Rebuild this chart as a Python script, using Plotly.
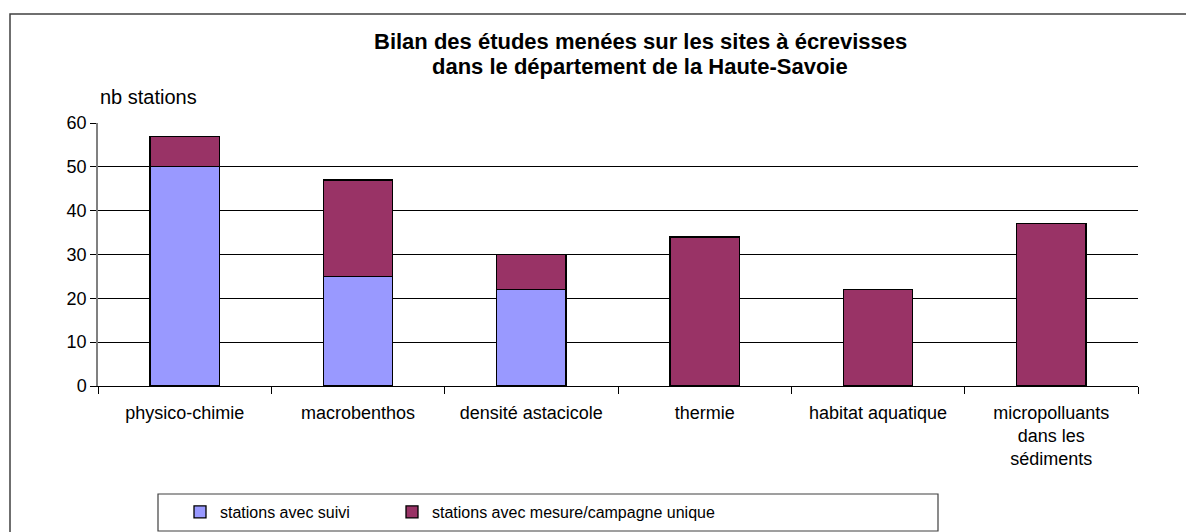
import plotly.graph_objects as go

# Study categories and station counts
categories = [
    "physico-chimie",
    "macrobenthos",
    "densité astacicole",
    "thermie",
    "habitat aquatique",
    "micropolluants<br>dans les<br>sédiments",
]
suivi = [50, 25, 22, 0, 0, 0]
unique = [7, 22, 8, 34, 22, 37]
grid_values = [10, 20, 30, 40, 50]
tick_values = [0, 10, 20, 30, 40, 50, 60]
title_lines = [
    "Bilan des études menées sur les sites à écrevisses",
    "dans le département de la Haute-Savoie",
]

FONT = "Liberation Sans, Arial, sans-serif"
W, H = 1186, 532
L, R, T, B = 98, 48, 123, 146
pw, ph = W - L - R, H - T - B


def px_x(x):
    return (x - L) / pw


def px_y(y):
    return (H - B - y) / ph


fig = go.Figure()
fig.add_trace(go.Bar(
    x=categories, y=suivi, name="stations avec suivi", legend="legend",
    marker=dict(color="#9999FF", line=dict(color="#000000", width=1.3)),
))
fig.add_trace(go.Bar(
    x=categories, y=unique, name="stations avec mesure/campagne unique",
    legend="legend2",
    marker=dict(color="#993366", line=dict(color="#000000", width=1.3)),
))
# overlay axis carrying the horizontal gridlines only
fig.add_trace(go.Scatter(x=[categories[0]], y=[0], yaxis="y2",
                         showlegend=False, hoverinfo="skip",
                         mode="markers", marker=dict(opacity=0)))

legend_style = dict(
    orientation="h", xref="container", yref="container",
    xanchor="left", y=1 - 512 / H, yanchor="middle",
    bgcolor="rgba(0,0,0,0)", borderwidth=0,
    font=dict(size=16),
)

# two-line bold heading
heading = [
    dict(text=f"<b>{line}</b>", xref="paper", yref="paper",
         x=px_x(640), y=px_y(cy), xanchor="center", yanchor="middle",
         showarrow=False, font=dict(size=22))
    for line, cy in zip(title_lines, [42, 66])
]

fig.update_layout(
    width=W, height=H,
    margin=dict(l=L, r=R, t=T, b=B, autoexpand=False),
    paper_bgcolor="white", plot_bgcolor="white",
    barmode="stack", bargap=0.6,
    font=dict(family=FONT, size=16, color="#000000"),
    xaxis=dict(
        type="category", tickson="boundaries", ticks="outside", ticklen=7,
        tickcolor="#000000", showline=True, linecolor="#000000", linewidth=1,
        showgrid=False, tickfont=dict(size=18), automargin=False,
        ticklabelstandoff=10,
    ),
    yaxis=dict(
        range=[0, 60], tickvals=tick_values, ticks="outside", ticklen=6,
        tickcolor="#000000", showline=True, linecolor="#808080", linewidth=1.5,
        showgrid=False, zeroline=False, tickfont=dict(size=18), automargin=False,
    ),
    yaxis2=dict(
        overlaying="y", range=[0, 60], tickvals=grid_values,
        showticklabels=False, ticks="", showgrid=True,
        gridcolor="#000000", gridwidth=1, zeroline=False, showline=False,
    ),
    legend=dict(x=180 / W, **legend_style),
    legend2=dict(x=392 / W, **legend_style),
    annotations=heading + [dict(
        text="nb stations", xref="paper", yref="paper",
        x=px_x(148), y=px_y(97), xanchor="center", yanchor="middle",
        showarrow=False, font=dict(size=20),
    )],
    shapes=[
        # outer chart frame
        dict(type="rect", xref="paper", yref="paper",
             x0=px_x(10), x1=px_x(1195), y0=px_y(545), y1=px_y(14),
             line=dict(color="#404040", width=1.5), layer="below"),
        # legend frame
        dict(type="rect", xref="paper", yref="paper",
             x0=px_x(158), x1=px_x(938), y0=px_y(531), y1=px_y(494),
             line=dict(color="#404040", width=1.2)),
    ],
)

fig.write_html("out.html")
